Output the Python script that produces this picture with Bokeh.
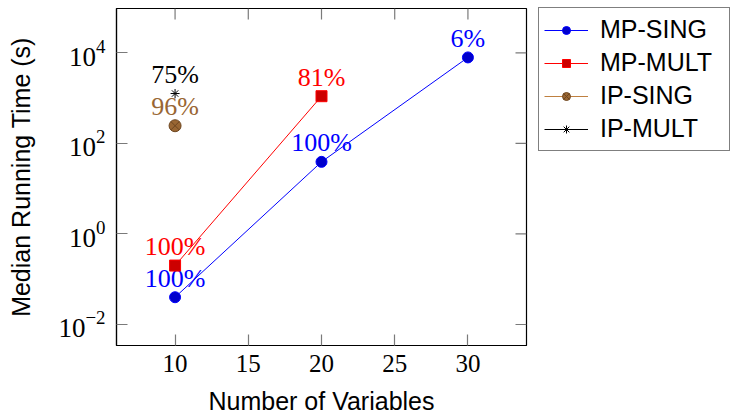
import math
from bokeh.plotting import figure
from bokeh.models import (Range1d, FixedTicker, LogTickFormatter,
                          Legend, LegendItem, ColumnDataSource)
from bokeh.core.properties import value
from bokeh.embed import file_html
from bokeh.resources import INLINE

# ---- data ----
mp_sing_x = [10, 20, 30]
mp_sing_y = [0.04, 39, 7900]
mp_sing_pct = ["100%", "100%", "6%"]

mp_mult_x = [10, 20]
mp_mult_y = [0.2, 1100]
mp_mult_pct = ["100%", "81%"]

ip_sing_x = [10]
ip_sing_y = [245]
ip_sing_pct = ["96%"]

ip_mult_x = [10]
ip_mult_y = [1260]
ip_mult_pct = ["75%"]

x_ticks = [10, 15, 20, 25, 30]
y_ticks = [0.01, 1, 100, 10000]

SERIF = "Liberation Serif"
SANS = "Liberation Sans"

xr = Range1d(6, 34)
yr = Range1d(10 ** -2.464, 10 ** 4.978)

p = figure(frame_width=410, frame_height=337, x_range=xr, y_range=yr,
           y_axis_type="log", output_backend="svg", toolbar_location=None,
           min_border_left=116, min_border_top=8, min_border_bottom=70, min_border_right=204)
p.xgrid.visible = False
p.ygrid.visible = False
p.outline_line_color = "black"
p.outline_line_width = 1.2

TICK_COLOR = "#7a7a7a"

def style_axis(ax):
    ax.major_tick_in = 11
    ax.major_tick_out = 0
    ax.minor_tick_in = 0
    ax.minor_tick_out = 0
    ax.major_tick_line_color = TICK_COLOR
    ax.major_tick_line_width = 1.2
    ax.axis_line_color = "black"
    ax.axis_line_width = 1.2

xa = p.xaxis[0]
xa.ticker = FixedTicker(ticks=x_ticks)
style_axis(xa)
xa.major_label_text_font = SERIF
xa.major_label_text_font_size = "25px"
xa.major_label_text_color = "black"
xa.major_label_standoff = 9
xa.axis_label = "Number of Variables"
xa.axis_label_text_font = SANS
xa.axis_label_text_font_size = "25px"
xa.axis_label_text_font_style = "normal"
xa.axis_label_text_color = "black"
xa.axis_label_standoff = 12

ya = p.yaxis[0]
ya.ticker = FixedTicker(ticks=y_ticks)
ya.formatter = LogTickFormatter()
style_axis(ya)
ya.major_label_text_font = SERIF
ya.major_label_text_font_size = "27px"
ya.major_label_text_color = "black"
ya.major_label_standoff = 11
ya.axis_label = "Median Running Time (s)"
ya.axis_label_text_font = SANS
ya.axis_label_text_font_size = "25px"
ya.axis_label_text_font_style = "normal"
ya.axis_label_text_color = "black"
ya.axis_label_standoff = 20

# mirrored ticks on top and right edges (inward), from the tick arrays
top_src = ColumnDataSource(dict(x=x_ticks, y=[yr.end] * len(x_ticks)))
right_src = ColumnDataSource(dict(x=[xr.end] * len(y_ticks), y=y_ticks))
p.ray("x", "y", source=top_src, length=11, length_units="screen",
      angle=-math.pi / 2, line_color=TICK_COLOR, line_width=1.2)
p.ray("x", "y", source=right_src, length=11, length_units="screen",
      angle=math.pi, line_color=TICK_COLOR, line_width=1.2)

items = []
series = [
    ("MP-SING", mp_sing_x, mp_sing_y, mp_sing_pct, "#0000ff", "circle", "#0000cc", "#0000ff", 11, "#0000ff"),
    ("MP-MULT", mp_mult_x, mp_mult_y, mp_mult_pct, "#ff0000", "square", "#cc0000", "#ff0000", 11, "#ff0000"),
    ("IP-SING", ip_sing_x, ip_sing_y, ip_sing_pct, "#bf8040", "circle_x", "#996633", "#6e4620", 12, "#996633"),
    ("IP-MULT", ip_mult_x, ip_mult_y, ip_mult_pct, "#000000", "asterisk", "#000000", "#000000", 9, "#000000"),
]
for name, xs, ys, pct, lc, marker, fc, mlc, size, tc in series:
    src = ColumnDataSource(dict(x=xs, y=ys, t=pct))
    r1 = p.line("x", "y", source=src, line_color=lc, line_width=1)
    r2 = p.scatter("x", "y", source=src, marker=marker, size=size, fill_color=fc,
                   line_color=mlc, line_width=1)
    p.text("x", "y", text="t", source=src, text_font=value(SERIF), text_font_size="26px",
           text_color=tc, text_align="center", text_baseline="middle", y_offset=-19)
    items.append(LegendItem(label=name, renderers=[r1, r2]))

legend = Legend(items=items, location=(12, 194))
legend.border_line_color = "black"
legend.border_line_width = 1
legend.label_text_font = SANS
legend.label_text_font_size = "25px"
legend.label_text_color = "black"
legend.glyph_width = 44
legend.glyph_height = 20
legend.label_height = 33
legend.label_width = 124
legend.spacing = 0
legend.padding = 5
legend.label_standoff = 12
legend.margin = 0
legend.background_fill_alpha = 1
p.add_layout(legend, "right")

open("out.html", "w").write(file_html(p, INLINE))
